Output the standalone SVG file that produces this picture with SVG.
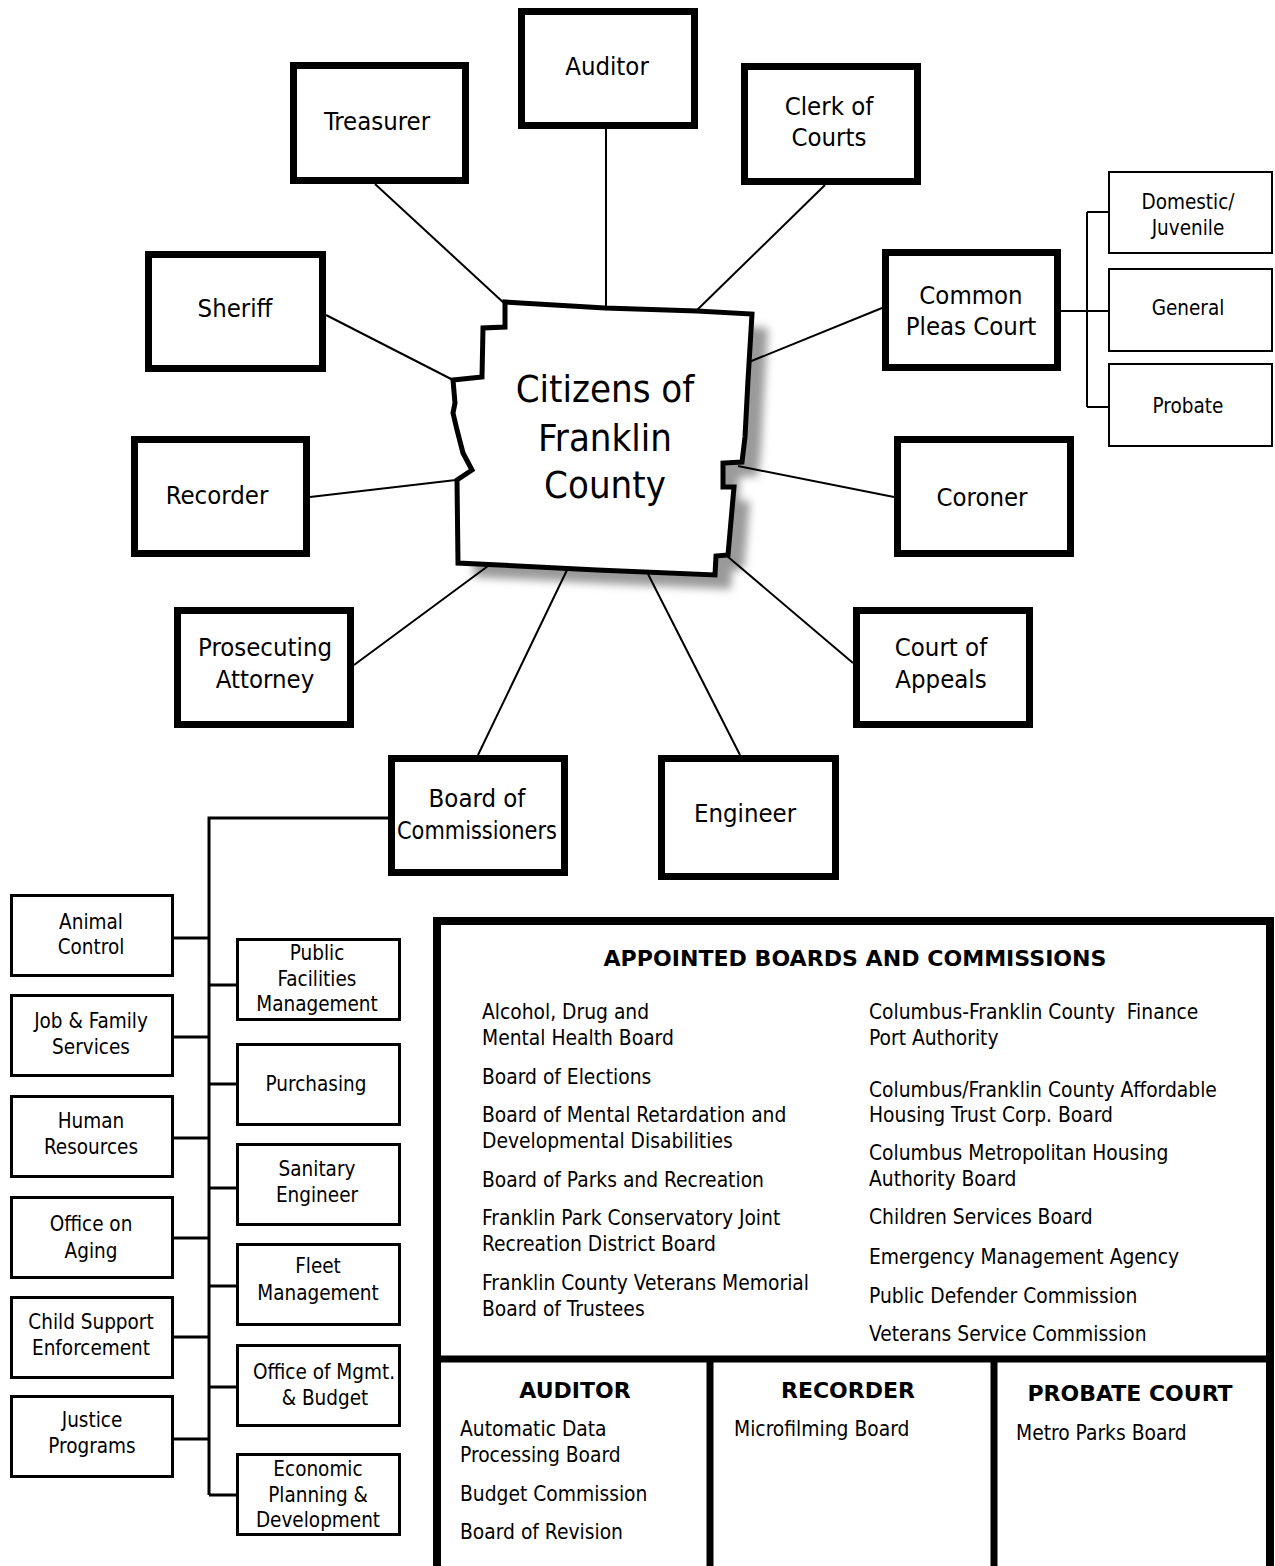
<svg xmlns="http://www.w3.org/2000/svg" width="1275" height="1566" viewBox="0 0 1275 1566">
<style>
.bx{fill:#fff;stroke:#000;stroke-width:7}
.sb{fill:#fff;stroke:#000;stroke-width:2}
.lb{fill:#fff;stroke:#000;stroke-width:3}
.cn{stroke:#000;stroke-width:2;fill:none}
.br{stroke:#000;stroke-width:3;fill:none}
text{font-family:"DejaVu Sans Condensed","DejaVu Sans",sans-serif;fill:#000}
.t1{font-size:25.5px;text-anchor:middle}
.t2{font-size:20.5px;text-anchor:middle}
.t3{font-size:20.8px}
.hd{font-family:"DejaVu Sans",sans-serif;font-weight:bold;font-size:22px;text-anchor:middle}
</style>
<defs>
<filter id="sh" x="-20%" y="-20%" width="140%" height="140%">
<feGaussianBlur stdDeviation="4"/>
</filter>
</defs>
<rect width="1275" height="1566" fill="#fff"/>

<polygon points="505,302 605,308 697,311 752,314 748,380 745,437 742,462 723,463 723,487 734,487 728,555 716,556 715,575 597,570 458,563 457,480 472,470 463,453 457,430 453,413 455,403 453,380 482,377 483,328 505,327" transform="translate(16,14)" fill="#9a9a9a" filter="url(#sh)"/>

<g id="connectors">
<line class="cn" x1="375" y1="184" x2="505" y2="304"/>
<line class="cn" x1="606" y1="129" x2="606" y2="308"/>
<line class="cn" x1="825" y1="185" x2="695" y2="312"/>
<line class="cn" x1="326" y1="315" x2="455" y2="381"/>
<line class="cn" x1="882" y1="308" x2="749" y2="362"/>
<line class="cn" x1="310" y1="497" x2="456" y2="480"/>
<line class="cn" x1="894" y1="497" x2="738" y2="466"/>
<line class="cn" x1="354" y1="665" x2="488" y2="566"/>
<line class="cn" x1="853" y1="663" x2="727" y2="556"/>
<line class="cn" x1="740" y1="755" x2="648" y2="574"/>
<line class="cn" x1="478" y1="755" x2="567" y2="570"/>
<path class="cn" d="M1061,311 H1108 M1087,212 V407 M1087,212 H1108 M1087,407 H1108"/>
<path class="br" d="M388,818 H209 V1495 M174,938 H209 M174,1037 H209 M174,1138 H209 M174,1238 H209 M174,1337 H209 M174,1439 H209 M209,985 H236 M209,1084 H236 M209,1188 H236 M209,1286 H236 M209,1387 H236 M209,1495 H236"/>
</g>

<g id="county">
<polygon points="505,302 605,308 697,311 752,314 748,380 745,437 742,462 723,463 723,487 734,487 728,555 716,556 715,575 597,570 458,563 457,480 472,470 463,453 457,430 453,413 455,403 453,380 482,377 483,328 505,327" fill="#fff" stroke="#000" stroke-width="5" stroke-linejoin="miter"/>
<text x="605" y="402" font-size="38" text-anchor="middle">Citizens of</text>
<text x="605" y="451" font-size="38" text-anchor="middle">Franklin</text>
<text x="605" y="498" font-size="38" text-anchor="middle">County</text>
</g>

<g id="auditor"><rect class="bx" x="521.5" y="11.5" width="173" height="114"/><text class="t1" x="607" y="75">Auditor</text></g>
<g id="treasurer"><rect class="bx" x="293.5" y="65.5" width="172" height="115"/><text class="t1" x="377" y="130">Treasurer</text></g>
<g id="clerk"><rect class="bx" x="744.5" y="66.5" width="173" height="115"/><text class="t1" x="829" y="115">Clerk of</text><text class="t1" x="829" y="146">Courts</text></g>
<g id="sheriff"><rect class="bx" x="148.5" y="254.5" width="174" height="114"/><text class="t1" x="235" y="317">Sheriff</text></g>
<g id="commonpleas"><rect class="bx" x="885.5" y="252.5" width="172" height="115"/><text class="t1" x="971" y="304">Common</text><text class="t1" x="971" y="335">Pleas Court</text></g>
<g id="recorder"><rect class="bx" x="134.5" y="439.5" width="172" height="114"/><text class="t1" x="217" y="504">Recorder</text></g>
<g id="coroner"><rect class="bx" x="897.5" y="439.5" width="173" height="114"/><text class="t1" x="982" y="506">Coroner</text></g>
<g id="prosecuting"><rect class="bx" x="177.5" y="610.5" width="173" height="114"/><text class="t1" x="265" y="656">Prosecuting</text><text class="t1" x="265" y="688">Attorney</text></g>
<g id="appeals"><rect class="bx" x="856.5" y="610.5" width="173" height="114"/><text class="t1" x="941" y="656">Court of</text><text class="t1" x="941" y="688">Appeals</text></g>
<g id="board"><rect class="bx" x="391.5" y="758.5" width="173" height="114"/><text class="t1" x="477" y="807">Board of</text><text class="t1" x="477" y="839" textLength="160" lengthAdjust="spacingAndGlyphs">Commissioners</text></g>
<g id="engineer"><rect class="bx" x="661.5" y="758.5" width="174" height="118"/><text class="t1" x="745" y="822">Engineer</text></g>

<g id="domestic"><rect class="sb" x="1109" y="172" width="163" height="81"/><text class="t2" x="1188" y="209">Domestic/</text><text class="t2" x="1188" y="235">Juvenile</text></g>
<g id="general"><rect class="sb" x="1109" y="269" width="163" height="82"/><text class="t2" x="1188" y="315">General</text></g>
<g id="probate"><rect class="sb" x="1109" y="364" width="163" height="82"/><text class="t2" x="1188" y="413">Probate</text></g>

<g id="animal"><rect class="lb" x="11.5" y="895.5" width="161" height="80"/><text class="t2" x="91" y="929">Animal</text><text class="t2" x="91" y="954">Control</text></g>
<g id="jobfamily"><rect class="lb" x="11.5" y="995.5" width="161" height="80"/><text class="t2" x="91" y="1028">Job &amp; Family</text><text class="t2" x="91" y="1054">Services</text></g>
<g id="hr"><rect class="lb" x="11.5" y="1096.5" width="161" height="80"/><text class="t2" x="91" y="1128">Human</text><text class="t2" x="91" y="1154">Resources</text></g>
<g id="aging"><rect class="lb" x="11.5" y="1197.5" width="161" height="80"/><text class="t2" x="91" y="1231">Office on</text><text class="t2" x="91" y="1258">Aging</text></g>
<g id="childsupport"><rect class="lb" x="11.5" y="1297.5" width="161" height="80"/><text class="t2" x="91" y="1329">Child Support</text><text class="t2" x="91" y="1355">Enforcement</text></g>
<g id="justice"><rect class="lb" x="11.5" y="1396.5" width="161" height="80"/><text class="t2" x="92" y="1427">Justice</text><text class="t2" x="92" y="1453">Programs</text></g>

<g id="publicfac"><rect class="lb" x="237.5" y="939.5" width="162" height="80"/><text class="t2" x="317" y="960">Public</text><text class="t2" x="317" y="986">Facilities</text><text class="t2" x="317" y="1011">Management</text></g>
<g id="purchasing"><rect class="lb" x="237.5" y="1044.5" width="162" height="80"/><text class="t2" x="316" y="1091">Purchasing</text></g>
<g id="sanitary"><rect class="lb" x="237.5" y="1144.5" width="162" height="80"/><text class="t2" x="317" y="1176">Sanitary</text><text class="t2" x="317" y="1202">Engineer</text></g>
<g id="fleet"><rect class="lb" x="237.5" y="1244.5" width="162" height="80"/><text class="t2" x="318" y="1273">Fleet</text><text class="t2" x="318" y="1300">Management</text></g>
<g id="omb"><rect class="lb" x="237.5" y="1345.5" width="162" height="80"/><text class="t2" x="324" y="1379">Office of Mgmt.</text><text class="t2" x="325" y="1405">&amp; Budget</text></g>
<g id="econ"><rect class="lb" x="237.5" y="1454.5" width="162" height="80"/><text class="t2" x="318" y="1476">Economic</text><text class="t2" x="318" y="1502">Planning &amp;</text><text class="t2" x="318" y="1527">Development</text></g>

<g id="appointed">
<rect x="437" y="921" width="833" height="660" fill="#fff" stroke="#000" stroke-width="8"/>
<line x1="437" y1="1359" x2="1270" y2="1359" stroke="#000" stroke-width="7"/>
<line x1="710" y1="1359" x2="710" y2="1570" stroke="#000" stroke-width="7"/>
<line x1="994" y1="1359" x2="994" y2="1570" stroke="#000" stroke-width="7"/>
<text class="hd" x="855" y="966" textLength="503" lengthAdjust="spacingAndGlyphs">APPOINTED BOARDS AND COMMISSIONS</text>
<text class="t3" x="482" y="1019">Alcohol, Drug and</text>
<text class="t3" x="482" y="1045">Mental Health Board</text>
<text class="t3" x="482" y="1084">Board of Elections</text>
<text class="t3" x="482" y="1122">Board of Mental Retardation and</text>
<text class="t3" x="482" y="1148">Developmental Disabilities</text>
<text class="t3" x="482" y="1187">Board of Parks and Recreation</text>
<text class="t3" x="482" y="1225">Franklin Park Conservatory Joint</text>
<text class="t3" x="482" y="1251">Recreation District Board</text>
<text class="t3" x="482" y="1290">Franklin County Veterans Memorial</text>
<text class="t3" x="482" y="1316">Board of Trustees</text>
<text class="t3" x="869" y="1019" xml:space="preserve">Columbus-Franklin County  Finance</text>
<text class="t3" x="869" y="1045">Port Authority</text>
<text class="t3" x="869" y="1097">Columbus/Franklin County Affordable</text>
<text class="t3" x="869" y="1122">Housing Trust Corp. Board</text>
<text class="t3" x="869" y="1160">Columbus Metropolitan Housing</text>
<text class="t3" x="869" y="1186">Authority Board</text>
<text class="t3" x="869" y="1224">Children Services Board</text>
<text class="t3" x="869" y="1264">Emergency Management Agency</text>
<text class="t3" x="869" y="1303">Public Defender Commission</text>
<text class="t3" x="869" y="1341">Veterans Service Commission</text>
</g>
<g id="auditorboards">
<text class="hd" x="575" y="1398">AUDITOR</text>
<text class="t3" x="460" y="1436">Automatic Data</text>
<text class="t3" x="460" y="1462">Processing Board</text>
<text class="t3" x="460" y="1501">Budget Commission</text>
<text class="t3" x="460" y="1539">Board of Revision</text>
</g>
<g id="recorderboards">
<text class="hd" x="848" y="1398">RECORDER</text>
<text class="t3" x="734" y="1436">Microfilming Board</text>
</g>
<g id="probateboards">
<text class="hd" x="1130" y="1401">PROBATE COURT</text>
<text class="t3" x="1016" y="1440">Metro Parks Board</text>
</g>
</svg>
